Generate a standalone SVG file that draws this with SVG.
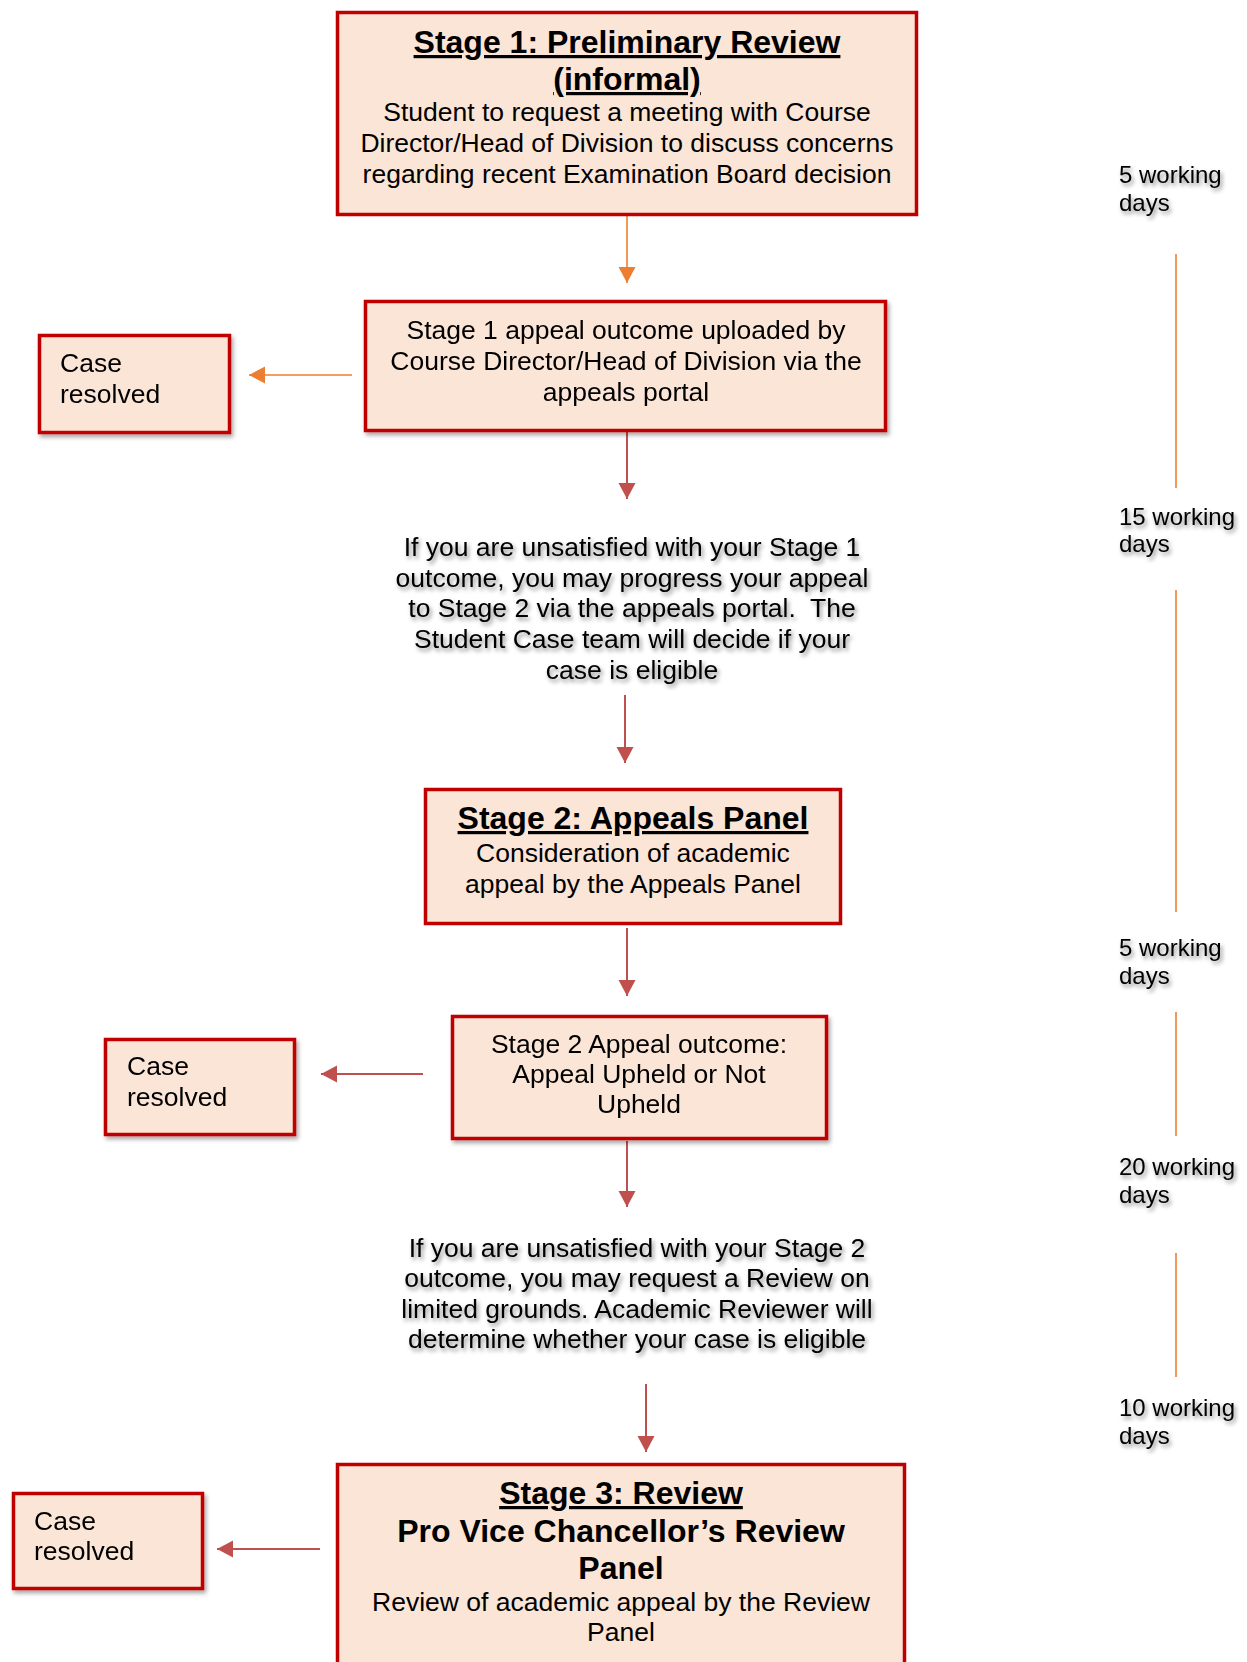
<svg xmlns="http://www.w3.org/2000/svg" width="1247" height="1662" viewBox="0 0 1247 1662">
<defs>
<style>
.box{fill:#FBE5D6;stroke:#C00000;stroke-width:3.5}
.t{font-family:"Liberation Sans",Arial,sans-serif;font-size:26.5px;fill:#000}
.c{text-anchor:middle}
.b{font-weight:bold;font-size:32px}
.u{text-decoration:underline}
.lbl{font-family:"Liberation Sans",Arial,sans-serif;font-size:24px;fill:#000}
.or{stroke:#ED7D31;stroke-width:1.6;fill:none}
.rd{stroke:#C0504D;stroke-width:2;fill:none}
.tl{stroke:#ED7D31;stroke-width:1.6}
</style>
<filter id="bs" x="-10%" y="-10%" width="125%" height="130%">
<feDropShadow dx="2" dy="3" stdDeviation="2" flood-color="#000" flood-opacity="0.35"/>
</filter>
<filter id="ts" x="-10%" y="-20%" width="125%" height="150%">
<feDropShadow dx="2" dy="3" stdDeviation="2" flood-color="#000" flood-opacity="0.45"/>
</filter>
<marker id="ao" markerUnits="userSpaceOnUse" markerWidth="18" markerHeight="18" refX="16" refY="8.5" orient="auto">
<path d="M0,0 L16,8.5 L0,17 z" fill="#ED7D31"/>
</marker>
<marker id="ar" markerUnits="userSpaceOnUse" markerWidth="18" markerHeight="18" refX="16" refY="8.5" orient="auto">
<path d="M0,0 L16,8.5 L0,17 z" fill="#C0504D"/>
</marker>
</defs>
<rect width="1247" height="1662" fill="#fff"/>

<g id="connectors">
<line class="or" x1="627" y1="216" x2="627" y2="283" marker-end="url(#ao)"/>
<line class="or" x1="352" y1="375" x2="249" y2="375" marker-end="url(#ao)"/>
<line class="rd" x1="627" y1="432" x2="627" y2="499" marker-end="url(#ar)"/>
<line class="rd" x1="625" y1="695" x2="625" y2="763" marker-end="url(#ar)"/>
<line class="rd" x1="627" y1="928" x2="627" y2="996" marker-end="url(#ar)"/>
<line class="rd" x1="423" y1="1074" x2="321" y2="1074" marker-end="url(#ar)"/>
<line class="rd" x1="627" y1="1141" x2="627" y2="1207" marker-end="url(#ar)"/>
<line class="rd" x1="646" y1="1384" x2="646" y2="1452" marker-end="url(#ar)"/>
<line class="rd" x1="320" y1="1549" x2="217" y2="1549" marker-end="url(#ar)"/>
</g>

<g id="stage1">
<rect class="box" x="337.5" y="12.5" width="579" height="202"/>
<text class="t c b u" x="627" y="53">Stage 1: Preliminary Review</text>
<text class="t c b u" x="627" y="90">(informal)</text>
<text class="t c" x="627" y="121">Student to request a meeting with Course</text>
<text class="t c" x="627" y="152">Director/Head of Division to discuss concerns</text>
<text class="t c" x="627" y="183">regarding recent Examination Board decision</text>
</g>

<g id="stage1-outcome" filter="url(#bs)">
<rect class="box" x="365.5" y="301.5" width="520" height="129"/>
<text class="t c" x="626" y="339">Stage 1 appeal outcome uploaded by</text>
<text class="t c" x="626" y="370">Course Director/Head of Division via the</text>
<text class="t c" x="626" y="401">appeals portal</text>
</g>

<g id="case-resolved-1" filter="url(#bs)">
<rect class="box" x="39.5" y="335.5" width="190" height="97"/>
<text class="t" x="60" y="372">Case</text>
<text class="t" x="60" y="403">resolved</text>
</g>

<g id="stage2-progress" filter="url(#ts)">
<text class="t c" x="632" y="556">If you are unsatisfied with your Stage 1</text>
<text class="t c" x="632" y="587">outcome, you may progress your appeal</text>
<text class="t c" x="632" y="617" xml:space="preserve">to Stage 2 via the appeals portal.  The</text>
<text class="t c" x="632" y="648">Student Case team will decide if your</text>
<text class="t c" x="632" y="679">case is eligible</text>
</g>

<g id="stage2">
<rect class="box" x="425.5" y="789.5" width="415" height="134"/>
<text class="t c b u" x="633" y="829">Stage 2: Appeals Panel</text>
<text class="t c" x="633" y="862">Consideration of academic</text>
<text class="t c" x="633" y="893">appeal by the Appeals Panel</text>
</g>

<g id="stage2-outcome" filter="url(#bs)">
<rect class="box" x="452.5" y="1016.5" width="374" height="122"/>
<text class="t c" x="639" y="1053">Stage 2 Appeal outcome:</text>
<text class="t c" x="639" y="1083">Appeal Upheld or Not</text>
<text class="t c" x="639" y="1113">Upheld</text>
</g>

<g id="case-resolved-2" filter="url(#bs)">
<rect class="box" x="105.5" y="1039.5" width="189" height="95"/>
<text class="t" x="127" y="1075">Case</text>
<text class="t" x="127" y="1106">resolved</text>
</g>

<g id="stage3-request" filter="url(#ts)">
<text class="t c" x="637" y="1257">If you are unsatisfied with your Stage 2</text>
<text class="t c" x="637" y="1287">outcome, you may request a Review on</text>
<text class="t c" x="637" y="1318">limited grounds. Academic Reviewer will</text>
<text class="t c" x="637" y="1348">determine whether your case is eligible</text>
</g>

<g id="stage3">
<rect class="box" x="337.5" y="1464.5" width="567" height="220"/>
<text class="t c b u" x="621" y="1504">Stage 3: Review</text>
<text class="t c b" x="621" y="1542">Pro Vice Chancellor’s Review</text>
<text class="t c b" x="621" y="1579">Panel</text>
<text class="t c" x="621" y="1611">Review of academic appeal by the Review</text>
<text class="t c" x="621" y="1641">Panel</text>
</g>

<g id="case-resolved-3" filter="url(#bs)">
<rect class="box" x="13.5" y="1493.5" width="189" height="95"/>
<text class="t" x="34" y="1530">Case</text>
<text class="t" x="34" y="1560">resolved</text>
</g>

<g id="timeline">
<line class="tl" x1="1176" y1="254" x2="1176" y2="488"/>
<line class="tl" x1="1176" y1="590" x2="1176" y2="912"/>
<line class="tl" x1="1176" y1="1012" x2="1176" y2="1136"/>
<line class="tl" x1="1176" y1="1253" x2="1176" y2="1377"/>
<g filter="url(#ts)">
<text class="lbl" x="1119" y="183">5 working</text>
<text class="lbl" x="1119" y="211">days</text>
<text class="lbl" x="1119" y="525">15 working</text>
<text class="lbl" x="1119" y="552">days</text>
<text class="lbl" x="1119" y="956">5 working</text>
<text class="lbl" x="1119" y="984">days</text>
<text class="lbl" x="1119" y="1175">20 working</text>
<text class="lbl" x="1119" y="1203">days</text>
<text class="lbl" x="1119" y="1416">10 working</text>
<text class="lbl" x="1119" y="1444">days</text>
</g>
</g>
</svg>
